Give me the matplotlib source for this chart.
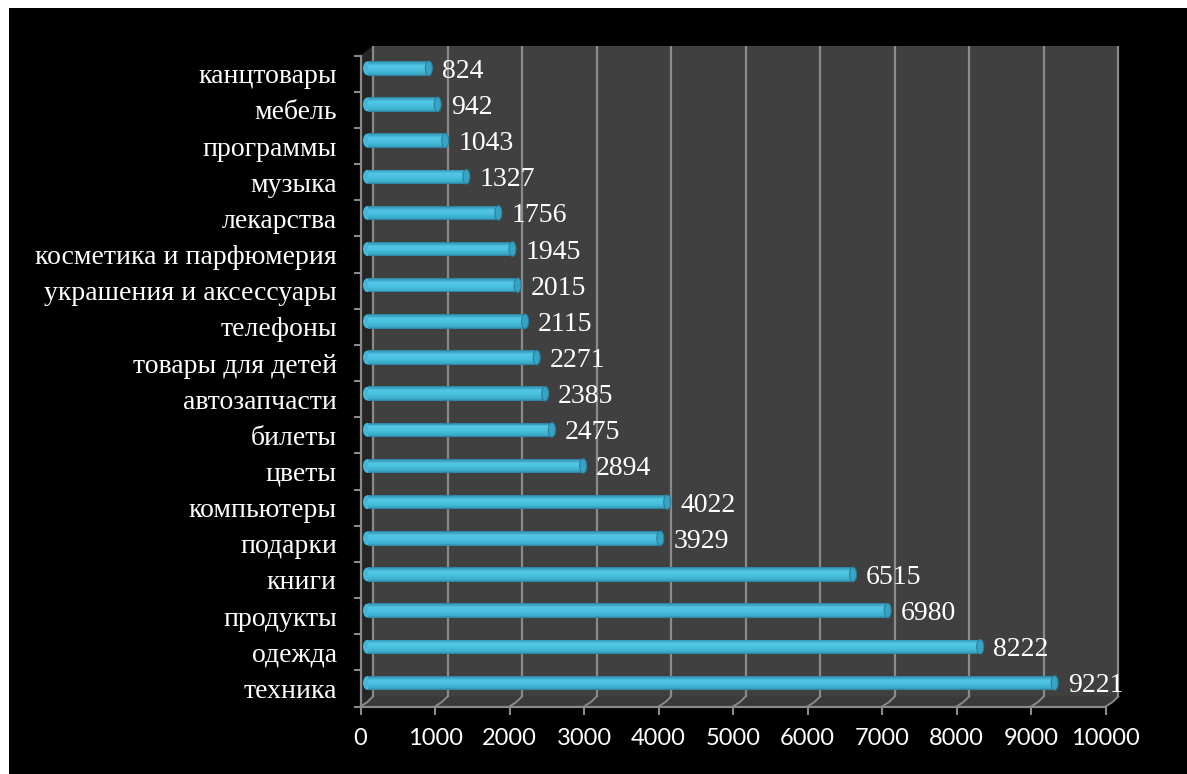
import numpy as np
import matplotlib
matplotlib.use("Agg")
import matplotlib.pyplot as plt
from matplotlib.patches import Rectangle, Polygon, Ellipse
from matplotlib.transforms import offset_copy
from matplotlib.colors import LinearSegmentedColormap

# Categories listed top to bottom, with their counts
categories = [
    "канцтовары", "мебель", "программы", "музыка", "лекарства",
    "косметика и парфюмерия", "украшения и аксессуары", "телефоны",
    "товары для детей", "автозапчасти", "билеты", "цветы",
    "компьютеры", "подарки", "книги", "продукты", "одежда", "техника",
]
values = [824, 942, 1043, 1327, 1756, 1945, 2015, 2115, 2271, 2385,
          2475, 2894, 4022, 3929, 6515, 6980, 8222, 9221]
x_ticks = list(range(0, 10001, 1000))

W, H, DPI = 1187, 774, 100
fig = plt.figure(figsize=(W / DPI, H / DPI), dpi=DPI, facecolor="white")

# black slide background with a thin white margin on the left and top
fig.patches.append(Rectangle((9 / W, 0), 1, (H - 8) / H, transform=fig.transFigure,
                             facecolor="black", edgecolor="none", zorder=-10))

# front plane of the pseudo-3D plot box (pixel geometry)
x0, x1 = 360.5, 1105.7
y_top, y_bot = 55.7, 706.5
ax = fig.add_axes([x0 / W, (H - y_bot) / H, (x1 - x0) / W, (y_bot - y_top) / H])
ax.set_facecolor("none")

n = len(categories)
ypos = np.arange(n)[::-1]          # first category at the top
ax.set_xlim(0, 10000)
ax.set_ylim(-0.5, n - 0.5)

# depth offsets (pixels) of the back wall and of the bar plane
DX, DY = 12.5, 10.0
BX, BY = 7.0, 5.5
ax_w, ax_h = x1 - x0, y_bot - y_top
dxa, dya = DX / ax_w, DY / ax_h

back = offset_copy(ax.transData, fig, x=DX, y=DY, units="dots")
mid = offset_copy(ax.transData, fig, x=BX, y=BY, units="dots")

grid_c = "#8a8a8a"
wall_c = "#404040"

# back wall, floor and left side wall
ax.add_patch(Rectangle((dxa, dya), 1, 1, transform=ax.transAxes, facecolor=wall_c,
                       edgecolor="none", clip_on=False, zorder=0))
ax.add_patch(Polygon([(0, 0), (1, 0), (1 + dxa, dya), (dxa, dya)], closed=True,
                     transform=ax.transAxes, facecolor="#3a3a3a", edgecolor="none",
                     clip_on=False, zorder=0.5))
ax.add_patch(Polygon([(0, 0), (dxa, dya), (dxa, 1 + dya), (0, 1)], closed=True,
                     transform=ax.transAxes, facecolor="#262626", edgecolor="none",
                     clip_on=False, zorder=0.5))

# vertical gridlines on the back wall and their diagonals across the floor
ax.vlines(x_ticks, -0.5, n - 0.5, transform=back, colors=grid_c, linewidth=1.6,
          clip_on=False, zorder=1)
for t in x_ticks:
    xa = t / 10000
    ax.plot([xa, xa + dxa * 0.55, xa + dxa], [0, dya * 0.45, dya], transform=ax.transAxes,
            color=grid_c, linewidth=1.4, clip_on=False, zorder=1)

# cylinder-like bars: stacked thin strips with a vertical shading profile
bar_h = 0.40
shade = LinearSegmentedColormap.from_list(
    "cyl", [(0.0, "#2a819c"), (0.1, "#379fbf"), (0.3, "#52c6e4"),
            (0.55, "#4ac0df"), (0.85, "#3bacca"), (1.0, "#2a819c")])
n_strips = 15
edges = np.linspace(-bar_h / 2, bar_h / 2, n_strips + 1)
px_x = 10000 / ax_w                # data units per pixel along x
for y, v in zip(ypos, values):
    # rounded left end
    ax.add_patch(Ellipse((0, y), 9 * px_x, bar_h * 0.96, transform=mid,
                         facecolor="#43b9da", edgecolor="none",
                         clip_on=False, zorder=2))
    for k in range(n_strips):
        lo, hi = edges[k], edges[k + 1]
        frac = 1 - (k + 0.5) / n_strips
        ax.barh(y + (lo + hi) / 2, v, height=hi - lo, left=0, color=shade(frac),
                linewidth=0, antialiased=False, transform=mid, zorder=3, clip_on=False)
    # end cap of the cylinder
    ax.add_patch(Ellipse((v, y), 7 * px_x, bar_h, transform=mid,
                         facecolor="#38a4c3", edgecolor="#2a7f99", linewidth=0.8,
                         clip_on=False, zorder=4))

# value labels beside each bar end
lab = offset_copy(ax.transData, fig, x=BX + 13, y=BY - 3, units="dots")
for y, v in zip(ypos, values):
    ax.text(v, y, str(v), transform=lab, ha="left", va="center", color="white",
            fontsize=20, family="Liberation Serif", zorder=5, clip_on=False)

# axes: category labels between boundary ticks, value ticks below
ax.set_yticks(ypos)
ax.set_yticklabels(categories, family="Liberation Serif", fontsize=20, color="white")
ax.set_yticks(np.arange(-0.5, n, 1.0), minor=True)
ax.tick_params(axis="y", which="major", length=0, pad=17)
ax.tick_params(axis="y", which="minor", length=5.2, width=1.5, color=grid_c, direction="out")

ax.set_xticks(x_ticks)
ax.set_xticklabels([str(t) for t in x_ticks], family="Lato", fontsize=17, color="white")
ax.tick_params(axis="x", length=5.5, width=1.5, color=grid_c, direction="out", pad=10)

for s in ("top", "right"):
    ax.spines[s].set_visible(False)
for s in ("left", "bottom"):
    ax.spines[s].set_color(grid_c)
    ax.spines[s].set_linewidth(1.6)
    ax.spines[s].set_zorder(6)

fig.savefig("out.png", dpi=DPI, facecolor=fig.get_facecolor())
